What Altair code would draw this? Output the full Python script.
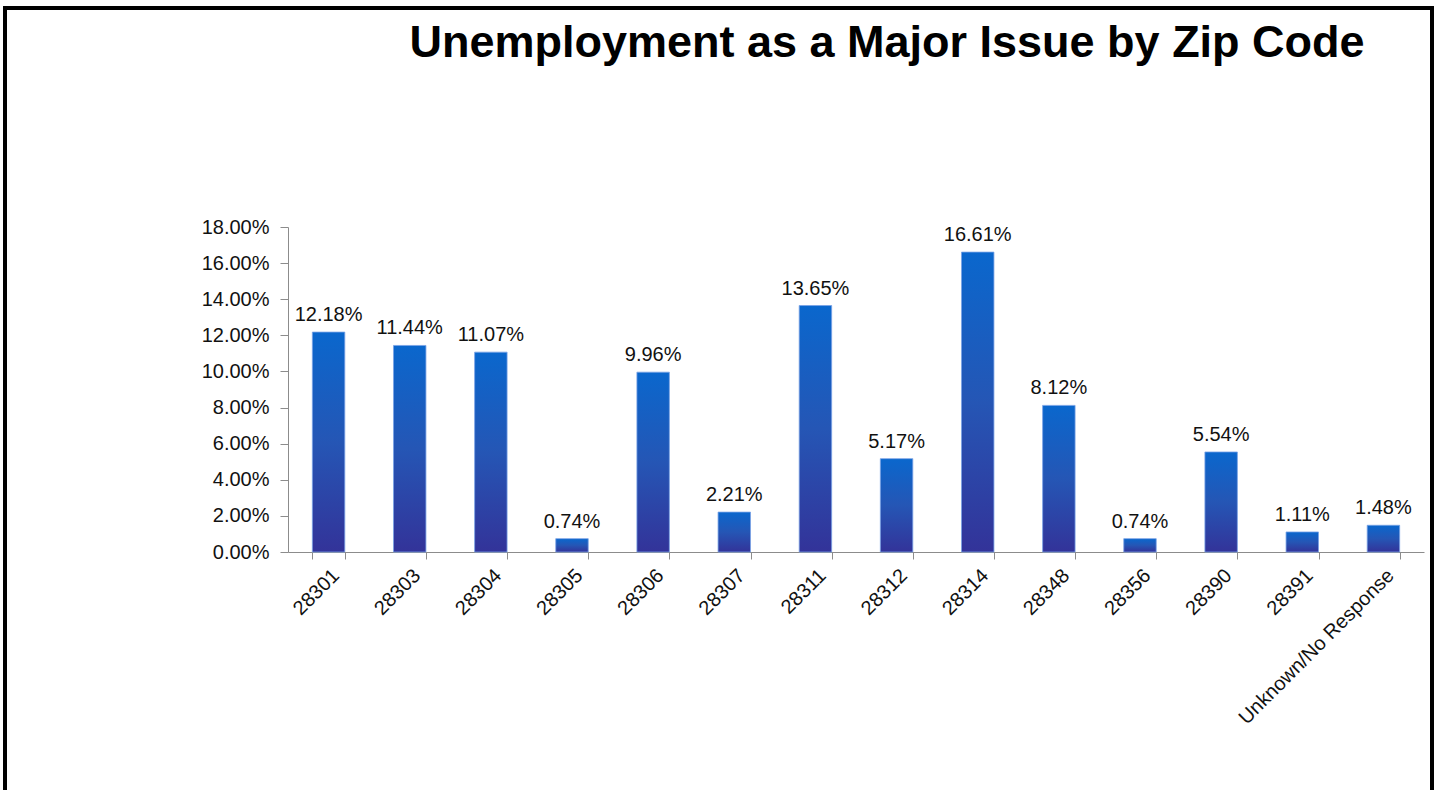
import altair as alt
import pandas as pd

zip_codes = ["28301", "28303", "28304", "28305", "28306", "28307", "28311",
             "28312", "28314", "28348", "28356", "28390", "28391",
             "Unknown/No Response"]
shares = [0.1218, 0.1144, 0.1107, 0.0074, 0.0996, 0.0221, 0.1365,
          0.0517, 0.1661, 0.0812, 0.0074, 0.0554, 0.0111, 0.0148]
y_ticks = [0.0, 0.02, 0.04, 0.06, 0.08, 0.10, 0.12, 0.14, 0.16, 0.18]
title_text = "Unemployment as a Major Issue by Zip Code"

df = pd.DataFrame({"zip": zip_codes, "share": shares})

FONT = "Liberation Sans"
FS = 20

x_enc = alt.X("zip:N", sort=zip_codes, title=None,
              scale=alt.Scale(paddingInner=0.6, paddingOuter=0.3),
              axis=alt.Axis(labelAngle=-45, labelFontSize=FS, labelFont=FONT,
                            labelColor="#111111", labelPadding=6,
                            labelOverlap=False, labelLimit=0,
                            tickBand="extent", tickSize=7, tickColor="#8c8c8c",
                            domainColor="#8c8c8c", labelAlign="right",
                            labelBaseline="top"))
y_enc = alt.Y("share:Q", title=None,
              scale=alt.Scale(domain=[0, 0.18], nice=False, zero=True),
              axis=alt.Axis(values=y_ticks, tickCount=10, format=".2%", grid=False,
                            labelFontSize=FS, labelFont=FONT, labelColor="#111111",
                            labelOverlap=False, labelLimit=0,
                            tickSize=8, tickColor="#8c8c8c", domainColor="#8c8c8c",
                            labelPadding=11))

gradient = alt.Gradient(
    gradient="linear",
    stops=[alt.GradientStop(color="#0a67cd", offset=0),
           alt.GradientStop(color="#2556b5", offset=0.5),
           alt.GradientStop(color="#333399", offset=1)],
    x1=0, x2=0, y1=0, y2=1)

bars = alt.Chart(df).mark_bar(color=gradient, stroke="#7aa2e6", strokeWidth=0.8).encode(
    x=x_enc, y=y_enc)

labels = alt.Chart(df).mark_text(baseline="bottom", dy=-7, fontSize=FS, font=FONT,
                                 color="#111111").encode(
    x=x_enc, y=y_enc,
    text=alt.Text("share:Q", format=".2%"))

frame = alt.Chart(df).mark_rect(fill=None, stroke="#000000", strokeWidth=3).encode(
    x=alt.value(-283), x2=alt.value(1144), y=alt.value(-219), y2=alt.value(620))

title = alt.Chart(pd.DataFrame({"t": [title_text]})).mark_text(
    font=FONT, fontSize=45, fontWeight="bold", color="#000000",
    align="center", baseline="alphabetic").encode(
    x=alt.value(599), y=alt.value(-170), text="t:N")

chart = alt.layer(frame, bars, labels, title).properties(
    width=1136, height=325,
    autosize=alt.AutoSizeParams(type="none"),
    padding={"left": 288, "top": 227, "right": 13, "bottom": 238},
    background="white",
).configure_view(stroke=None)

chart.save("out.html", embed_options={"renderer": "svg", "actions": False})
